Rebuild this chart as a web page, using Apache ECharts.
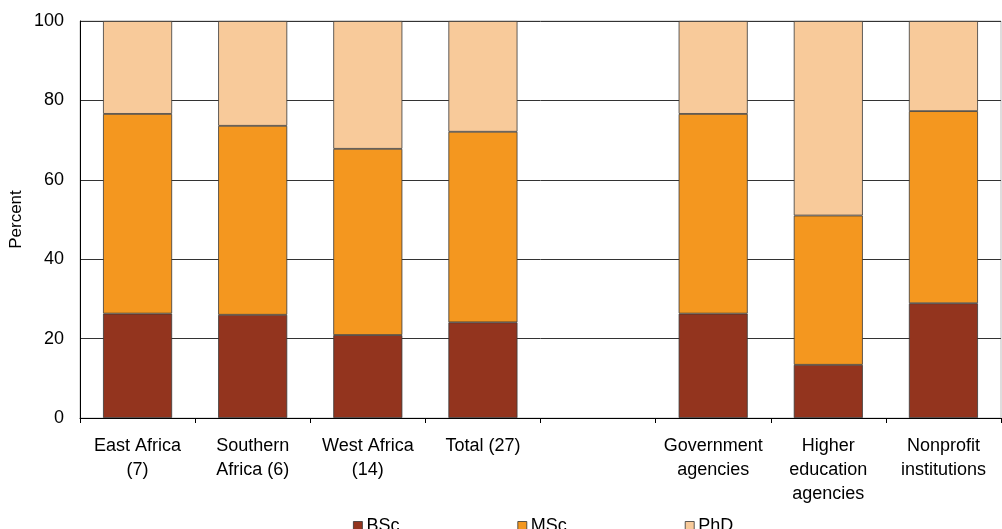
<!DOCTYPE html>
<html>
<head>
<meta charset="utf-8">
<script src="https://cdn.jsdelivr.net/npm/echarts@6/dist/echarts.min.js"></script>
<style>
  html, body { margin: 0; padding: 0; background: #fff; }
  #chart { width: 1002px; height: 529px; }
</style>
</head>
<body>
<div id="chart"></div>
<script>
// Share of staff by highest degree, per region and institution type
const categories = [
  'East Africa\n(7)',
  'Southern\nAfrica (6)',
  'West Africa\n(14)',
  'Total (27)',
  '',
  'Government\nagencies',
  'Higher\neducation\nagencies',
  'Nonprofit\ninstitutions'
];
const bsc = [26.3, 26.0, 20.9, 24.1, null, 26.3, 13.4, 28.9];
const msc = [50.3, 47.6, 46.9, 48.0, null, 50.3, 37.6, 48.4];
const phd = [23.4, 26.4, 32.2, 27.9, null, 23.4, 49.0, 22.7];
const yTicks = [0, 20, 40, 60, 80, 100];

const FONT = 'Liberation Sans, Arial, sans-serif';
const edge = { borderColor: '#3a3a3a', borderWidth: 0.8 };

const chart = echarts.init(document.getElementById('chart'), null, { renderer: 'canvas' });

function bar(name, data, color) {
  return {
    name: name,
    type: 'bar',
    stack: 'deg',
    data: data,
    barWidth: '60%',
    itemStyle: Object.assign({ color: color }, edge)
  };
}

chart.setOption({
  animation: false,
  backgroundColor: '#fff',
  textStyle: { fontFamily: FONT },
  grid: {
    left: 80, right: 1, top: 21, bottom: 111,
    outerBoundsMode: 'none',
    containLabel: false,
    show: true, borderColor: '#bbb', borderWidth: 1
  },
  legend: {
    left: 353,
    top: 517,
    padding: 0,
    itemWidth: 9,
    itemHeight: 9,
    itemGap: 118,
    icon: 'rect',
    textStyle: { fontFamily: FONT, fontSize: 18, color: '#000', padding: [0, 0, 0, -1] },
    itemStyle: { borderColor: '#333', borderWidth: 0.8 },
    data: ['BSc', 'MSc', 'PhD']
  },
  xAxis: {
    type: 'category',
    data: categories,
    boundaryGap: true,
    axisLine: { lineStyle: { color: '#000', width: 1 } },
    axisTick: { show: true, length: 5, lineStyle: { color: '#000' } },
    axisLabel: {
      interval: 0,
      margin: 16,
      fontFamily: FONT,
      fontSize: 18,
      lineHeight: 24,
      color: '#000'
    }
  },
  yAxis: {
    type: 'value',
    min: yTicks[0],
    max: yTicks[yTicks.length - 1],
    interval: 20,
    name: 'Percent',
    nameLocation: 'middle',
    nameRotate: 90,
    nameGap: 55,
    nameMoveOverlap: false,
    nameTextStyle: { fontFamily: FONT, fontSize: 17, color: '#000' },
    axisLine: { show: true, lineStyle: { color: '#000', width: 1 } },
    axisTick: { show: false },
    axisLabel: { margin: 16, fontFamily: FONT, fontSize: 18, color: '#000' },
    splitLine: { show: true, lineStyle: { color: '#333', width: 1 } }
  },
  series: [
    bar('BSc', bsc, '#93341E'),
    bar('MSc', msc, '#F4971F'),
    bar('PhD', phd, '#F8CA9A')
  ]
});
</script>
</body>
</html>
